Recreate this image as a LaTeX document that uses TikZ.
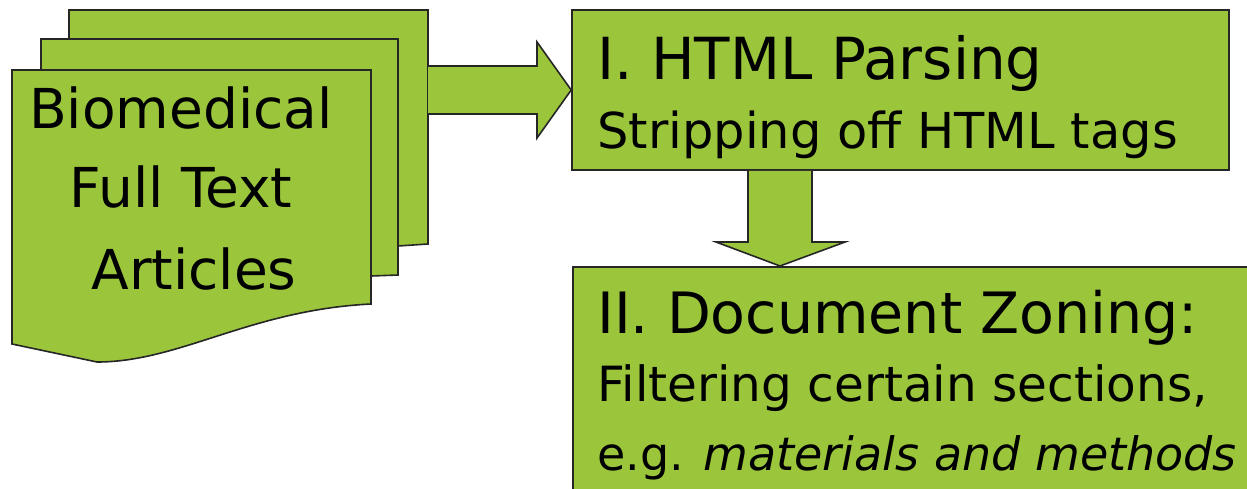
\documentclass[tikz,border=0pt]{standalone}
\usepackage{fontspec}
\setmainfont{DejaVu Sans}
\usetikzlibrary{calc}
\definecolor{leaf}{RGB}{155,198,60}
\begin{document}
\begin{tikzpicture}[x=1pt,y=-1pt,
  shapeline/.style={draw=black!85,line width=1.6pt,fill=leaf,line join=miter},
  boxnode/.style={shapeline,rectangle,inner sep=0pt},
  bigtext/.style={anchor=base west,inner sep=0pt,font=\fontsize{58}{58}\selectfont},
  smalltext/.style={anchor=base west,inner sep=0pt,font=\fontsize{49.5}{49.5}\selectfont},
  srctext/.style={anchor=base,inner sep=0pt,font=\fontsize{55}{55}\selectfont}]
\useasboundingbox (0,0) rectangle (1247,488);
\clip (0,0) rectangle (1247,488);
% stacked pages
\path[shapeline] (69,10) -- (428,10) -- (428,244) -- (398,246) -- (69,260) -- cycle;
\path[shapeline] (41,39) -- (398,39) -- (398,275) -- (371,276) -- (41,290) -- cycle;
\path[shapeline] (12,70) -- (371,70) -- (371,304)
  .. controls (250,310) and (180,362) .. (97,362)
  -- (12,344) -- cycle;
\coordinate (backE) at (428,90);
\node[srctext] (src1) at (181,128) {Biomedical};
\node[srctext] (src2) at (181,207) {Full Text};
\node[srctext] (src3) at (194,289) {Articles};
% box I
\node[boxnode,minimum width=657pt,minimum height=160pt] (parse) at (900.5,90) {};
\node[bigtext] (parse1) at (597,79) {I. HTML Parsing};
\node[smalltext] (parse2) at (597,148) {Stripping off HTML tags};
% box II
\node[boxnode,minimum width=700pt,minimum height=240pt,anchor=north west] (zone) at (572,266) {};
\node[bigtext,font=\fontsize{57}{57}\selectfont] (zone1) at (597,333) {II. Document Zoning:};
\node[smalltext,font=\fontsize{48.5}{48.5}\selectfont] (zone2) at (597,401) {Filtering certain sections,};
\node[smalltext,font=\fontsize{46}{46}\selectfont] (zone3) at (597,470) {e.g. \textit{materials and methods}};
% right block arrow
\path[shapeline] (backE |- 0,66) -- (537,66) -- (537,42) -- (parse.west) -- (537,138) -- (537,114) -- (backE |- 0,114);
% down block arrow
\coordinate (downtip) at ($(zone.north west)+(208,0)$);
\path[shapeline] (748,0 |- parse.south) -- (748,242) -- (716,242) -- (downtip) -- (845,242) -- (812,242) -- (812,0 |- parse.south);
\end{tikzpicture}
\end{document}
